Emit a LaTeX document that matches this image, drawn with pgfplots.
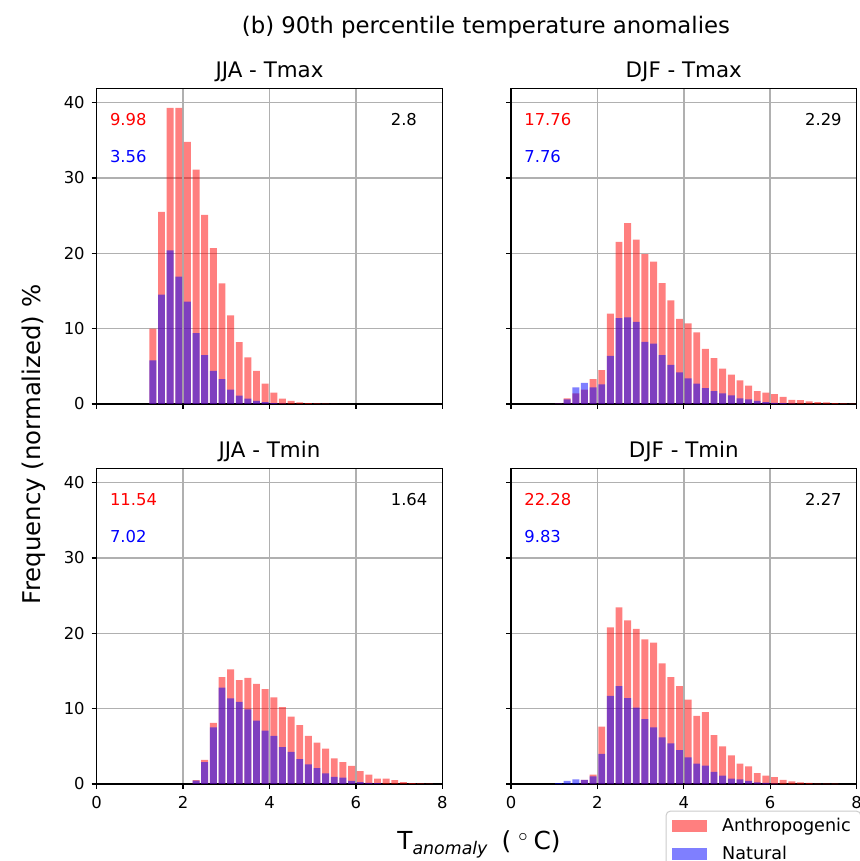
\documentclass[border=0pt]{standalone}
\usepackage{fontspec}
\setmainfont{DejaVu Sans}
\usepackage{pgfplots}
\pgfplotsset{compat=1.18}

\pgfplotsset{
  panel/.style={
    scale only axis,
    width=172.8pt, height=157.85pt,
    anchor=south west,
    xmin=0, xmax=8, ymin=0, ymax=41.9,
    xtick={0,2,4,6,8}, ytick={0,10,20,30,40},
    grid=major,
    grid style={color=black!31, line width=0.7pt},
    axis line style={black, line width=0.65pt},
    tick style={black, line width=0.65pt},
    tick align=outside,
    xtick pos=left, ytick pos=left,
    major tick length=2.5pt,
    /pgf/number format/assume math mode=true,
    tick label style={font=\fontsize{8.2}{10}\selectfont},
    title style={font=\fontsize{10.7}{12}\selectfont, at={(0.5,1)}, anchor=base, yshift=-0.5pt},
  },
  anth/.style={ybar, bar width=0.16, bar shift=0pt, fill=red, fill opacity=0.5, draw=none,
    legend image code/.code={\fill[red, fill opacity=0.5, sharp corners] (0pt,-3pt) rectangle (17.5pt,3pt);}},
  natu/.style={ybar, bar width=0.16, bar shift=0pt, fill=blue, fill opacity=0.5, draw=none,
    legend image code/.code={\fill[blue, fill opacity=0.5, sharp corners] (0pt,-3pt) rectangle (17.5pt,3pt);}},
}
\tikzset{ann/.style={anchor=base west, inner sep=0pt, font=\fontsize{8.2}{10}\selectfont}}

\pgfplotstableread{
x y
1.3 10.0
1.5 25.5
1.7 39.3
1.9 39.3
2.1 34.8
2.3 31.1
2.5 25.1
2.7 20.7
2.9 16.0
3.1 11.75
3.3 8.2
3.5 6.2
3.7 4.4
3.9 2.7
4.1 1.5
4.3 0.7
4.5 0.4
4.7 0.2
4.9 0.1
5.1 0.07
5.3 0.05
5.5 0.03
}\jjaxA
\pgfplotstableread{
x y
1.3 5.8
1.5 14.5
1.7 20.4
1.9 16.9
2.1 13.6
2.3 9.4
2.5 6.5
2.7 4.4
2.9 3.3
3.1 1.9
3.3 1.1
3.5 0.7
3.7 0.4
3.9 0.25
4.1 0.1
4.3 0.05
}\jjaxN
\pgfplotstableread{
x y
1.1 0.05
1.3 0.75
1.5 1.4
1.7 1.9
1.9 3.3
2.1 4.5
2.3 12.0
2.5 21.5
2.7 24.0
2.9 21.8
3.1 19.9
3.3 18.9
3.5 16.05
3.7 13.75
3.9 11.3
4.1 10.7
4.3 9.5
4.5 7.3
4.7 6.1
4.9 4.7
5.1 3.9
5.3 3.15
5.5 2.45
5.7 1.7
5.9 1.5
6.1 1.3
6.3 0.95
6.5 0.55
6.7 0.5
6.9 0.35
7.1 0.25
7.3 0.2
7.5 0.12
7.7 0.08
7.9 0.05
}\djfxA
\pgfplotstableread{
x y
1.1 0.05
1.3 0.6
1.5 2.2
1.7 2.8
1.9 2.2
2.1 2.6
2.3 6.4
2.5 11.4
2.7 11.5
2.9 10.9
3.1 8.25
3.3 8.0
3.5 6.5
3.7 5.2
3.9 4.2
4.1 3.4
4.3 2.7
4.5 2.1
4.7 1.7
4.9 1.4
5.1 1.15
5.3 0.75
5.5 0.6
5.7 0.4
5.9 0.25
6.1 0.15
6.3 0.1
6.5 0.05
}\djfxN
\pgfplotstableread{
x y
2.3 0.5
2.5 3.2
2.7 8.1
2.9 14.2
3.1 15.2
3.3 13.8
3.5 14.1
3.7 13.3
3.9 12.6
4.1 11.5
4.3 10.2
4.5 8.95
4.7 7.8
4.9 6.4
5.1 5.5
5.3 4.7
5.5 3.4
5.7 2.9
5.9 2.4
6.1 1.7
6.3 1.25
6.5 0.7
6.7 0.7
6.9 0.5
7.1 0.25
7.3 0.1
7.5 0.08
7.7 0.05
}\jjanA
\pgfplotstableread{
x y
2.3 0.45
2.5 2.9
2.7 7.5
2.9 12.8
3.1 11.35
3.3 10.9
3.5 9.9
3.7 8.4
3.9 7.1
4.1 6.4
4.3 4.9
4.5 4.25
4.7 3.3
4.9 2.6
5.1 2.1
5.3 1.4
5.5 0.95
5.7 0.85
5.9 0.4
6.1 0.25
6.3 0.15
6.5 0.1
}\jjanN
\pgfplotstableread{
x y
1.7 0.55
1.9 1.25
2.1 7.6
2.3 20.8
2.5 23.45
2.7 21.7
2.9 20.6
3.1 19.2
3.3 18.75
3.5 16.0
3.7 14.2
3.9 13.0
4.1 11.2
4.3 9.05
4.5 9.55
4.7 6.5
4.9 5.0
5.1 3.8
5.3 2.7
5.5 2.35
5.7 1.45
5.9 1.1
6.1 0.9
6.3 0.55
6.5 0.35
6.7 0.2
6.9 0.15
7.1 0.05
7.3 0.05
7.5 0.05
}\djfnA
\pgfplotstableread{
x y
1.1 0.1
1.3 0.4
1.5 0.6
1.7 0.55
1.9 1.0
2.1 4.0
2.3 11.7
2.5 13.0
2.7 11.4
2.9 10.15
3.1 8.6
3.3 7.5
3.5 6.2
3.7 5.4
3.9 4.5
4.1 3.55
4.3 2.7
4.5 2.45
4.7 1.6
4.9 1.1
5.1 0.7
5.3 0.6
5.5 0.4
5.7 0.2
5.9 0.15
6.1 0.05
}\djfnN

\begin{document}
\begin{tikzpicture}
\path[use as bounding box] (0pt,0pt) rectangle (429.5pt,430.5pt);

% top-left
\begin{axis}[panel, at={(48.35pt,228.5pt)}, title={JJA - Tmax}, xticklabels={}]
\addplot[anth] table[x=x,y=y] {\jjaxA};
\addplot[natu] table[x=x,y=y] {\jjaxN};
\node[ann, text=red] at (axis cs:0.3,37) {9.98};
\node[ann, text=blue] at (axis cs:0.3,32) {3.56};
\node[ann, text=black] at (axis cs:6.8,37) {2.8};
\end{axis}

% top-right
\begin{axis}[panel, at={(255.5pt,228.5pt)}, title={DJF - Tmax}, xticklabels={}, yticklabels={}]
\addplot[anth] table[x=x,y=y] {\djfxA};
\addplot[natu] table[x=x,y=y] {\djfxN};
\node[ann, text=red] at (axis cs:0.3,37) {17.76};
\node[ann, text=blue] at (axis cs:0.3,32) {7.76};
\node[ann, text=black] at (axis cs:6.8,37) {2.29};
\end{axis}

% bottom-left
\begin{axis}[panel, at={(48.35pt,38.5pt)}, title={JJA - Tmin}]
\addplot[anth] table[x=x,y=y] {\jjanA};
\addplot[natu] table[x=x,y=y] {\jjanN};
\node[ann, text=red] at (axis cs:0.3,37) {11.54};
\node[ann, text=blue] at (axis cs:0.3,32) {7.02};
\node[ann, text=black] at (axis cs:6.8,37) {1.64};
\end{axis}

% bottom-right
\begin{axis}[panel, at={(255.5pt,38.5pt)}, title={DJF - Tmin}, yticklabels={},
  legend style={at={(0.4476,-0.0846)}, anchor=north west, draw=black!20, line width=0.5pt,
    rounded corners=2pt, font=\fontsize{8.8}{10}\selectfont, inner xsep=3pt, inner ysep=1.5pt,
    row sep=1.8pt, fill=white,
    /tikz/every odd column/.append style={column sep=5.5pt}},
  legend cell align=left]
\addplot[anth] table[x=x,y=y] {\djfnA};
\addlegendentry{Anthropogenic}
\addplot[natu] table[x=x,y=y] {\djfnN};
\addlegendentry{Natural}
\node[ann, text=red] at (axis cs:0.3,37) {22.28};
\node[ann, text=blue] at (axis cs:0.3,32) {9.83};
\node[ann, text=black] at (axis cs:6.8,37) {2.27};
\end{axis}

\node[font=\fontsize{11.4}{14}\selectfont, anchor=base] at (243pt,413.9pt) {(b) 90th percentile temperature anomalies};
\node[font=\fontsize{12.2}{14}\selectfont, rotate=90] at (17pt,208.3pt) {Frequency (normalized) \%};
\node[font=\fontsize{12.4}{14}\selectfont, anchor=base] at (239.5pt,5.5pt) {T\textsubscript{\textit{anomaly}}\hspace{6.5pt}(\hspace{3.5pt}$^{\circ}$\hspace{2.5pt}C)};
\end{tikzpicture}
\end{document}
